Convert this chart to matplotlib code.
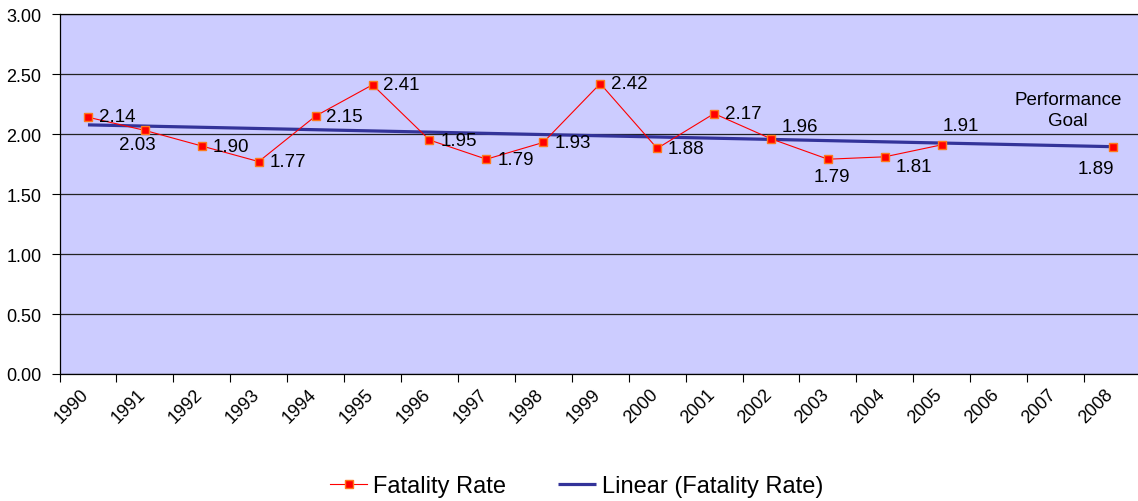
import matplotlib
import matplotlib.pyplot as plt
import matplotlib.transforms as mtransforms
import numpy as np

matplotlib.use("Agg")

plt.rcParams["font.family"] = ["Liberation Sans", "DejaVu Sans"]

# --- data ---
years = [str(y) for y in range(1990, 2009)]
fatality_rate = [2.14, 2.03, 1.90, 1.77, 2.15, 2.41, 1.95, 1.79, 1.93, 2.42,
                 1.88, 2.17, 1.96, 1.79, 1.81, 1.91, np.nan, np.nan, 1.89]
y_ticks = [0.0, 0.5, 1.0, 1.5, 2.0, 2.5, 3.0]

# label offsets in pixels (label centre relative to the point)
label_offsets = [(29, 1), (-8, -14), (29, 0), (29, 0), (29, 0), (29, 0),
                 (29, 0), (29, 0), (29, 0), (29, 0), (29, 0), (29, 0),
                 (29, 12), (4, -17), (29, -10), (19, 19), None, None,
                 (-17, -21)]

x = np.arange(len(years))
y = np.array(fatality_rate)

fig = plt.figure(figsize=(11.38, 5.02), dpi=100)
ax = fig.add_axes([59.5 / 1138, 127 / 502, 1081.5 / 1138, 360 / 502])
ax.set_facecolor("#CCCCFF")

# gridlines
ax.set_ylim(0, 3)
ax.set_yticks(y_ticks)
ax.set_yticklabels([f"{v:.2f}" for v in y_ticks], fontsize=13)
ax.yaxis.grid(True, color="#222222", linewidth=0.9)
ax.set_axisbelow(True)

# trend line (least squares over the points that exist)
ok = ~np.isnan(y)
slope, icpt = np.polyfit(x[ok], y[ok], 1)
ax.plot([x[0], x[-1]], [icpt + slope * x[0], icpt + slope * x[-1]],
        color="#333399", linewidth=2.3, solid_capstyle="butt",
        label="Linear (Fatality Rate)", zorder=3)

ax.plot(x, y, color="#FF0000", linewidth=0.8, marker="s", markersize=5.8,
        markerfacecolor="#FF0000", markeredgecolor="#FF7A1A",
        markeredgewidth=1.0, label="Fatality Rate", zorder=4)

for xi, yi, off in zip(x, y, label_offsets):
    if off is None or np.isnan(yi):
        continue
    ax.annotate(f"{yi:.2f}", (xi, yi), xytext=off, textcoords="offset pixels",
                ha="center", va="center", fontsize=13.5, zorder=5)

ax.text(17.22, 2.20, "Performance\nGoal", ha="center", va="center",
        fontsize=13.5, linespacing=1.35, multialignment="center")

# category axis: ticks between categories, labels at centres
ax.set_xlim(-0.5, len(years) - 0.5)
ax.set_xticks(x)
ax.set_xticklabels(years, rotation=45, ha="right", rotation_mode="anchor")
ax.set_xticks(np.arange(len(years) + 1) - 0.5, minor=True)
ax.tick_params(axis="x", which="major", length=0, pad=8, labelsize=13)
ax.tick_params(axis="x", which="minor", length=6, width=0.8, direction="out")
ax.tick_params(axis="y", length=6, width=0.8, direction="out", pad=7)
shift = mtransforms.ScaledTranslation(-8 / 100, 0, fig.dpi_scale_trans)
for lbl in ax.get_xticklabels():
    lbl.set_transform(lbl.get_transform() + shift)

for side in ("left", "bottom", "top"):
    ax.spines[side].set_color("black")
    ax.spines[side].set_linewidth(0.9)
ax.spines["right"].set_visible(False)

handles, labels = ax.get_legend_handles_labels()
fig.legend(handles[::-1], labels[::-1], loc="center",
           bbox_to_anchor=(576.5 / 1138, 1 - 487 / 502), ncol=2,
           frameon=False, fontsize=17, handlelength=1.6, handletextpad=0.25,
           columnspacing=2.2)

fig.savefig("out.png", dpi=100)
